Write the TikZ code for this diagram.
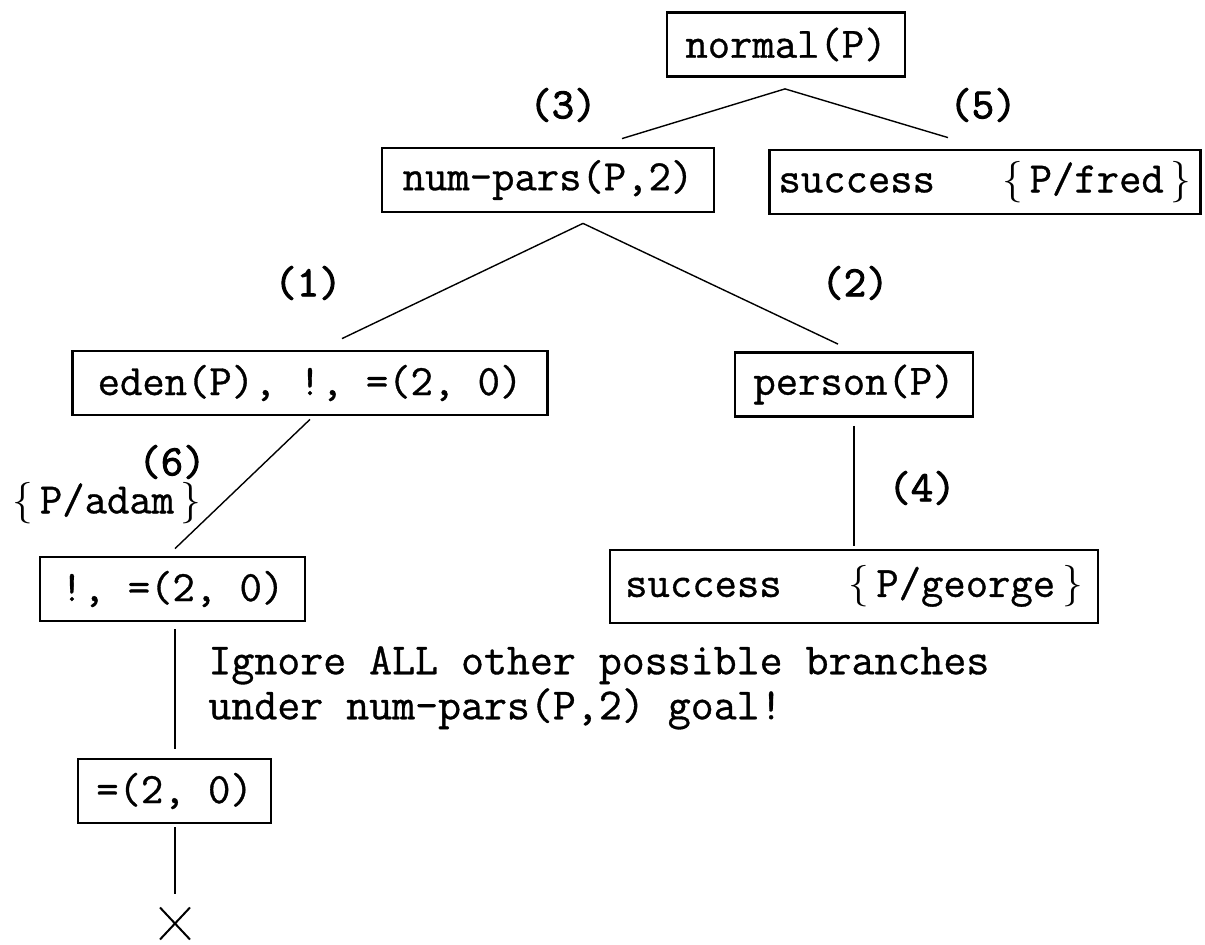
\documentclass[tikz,border=0pt]{standalone}
\usepackage{fontspec}
\usetikzlibrary{calc}
% typewriter faces, slightly emboldened for the goals and more for the branch numbers
\newfontfamily\goalfont{Latin Modern Mono}[FakeBold=0.8]
\newfontfamily\numfont{Latin Modern Mono}[FakeBold=2.2]
\begin{document}
\begin{tikzpicture}[x=0.5pt,y=-0.5pt,
  goal/.style={draw,line width=1.4pt,inner sep=0pt,minimum height=32pt,
    font=\fontsize{21.7}{26}\selectfont\goalfont},
  lbl/.style={inner sep=0pt,font=\fontsize{21.7}{26}\selectfont\numfont},
  sublbl/.style={inner sep=0pt,font=\fontsize{21.7}{26}\selectfont\goalfont},
  edge/.style={line width=0.7pt},
  failmark/.style={line width=1pt}]
\useasboundingbox (0,0) rectangle (1205,945);

% goals of the search tree
\node[goal,minimum width=119pt] (normal) at (786,44.5) {normal(P)};
\node[goal,minimum width=166pt] (numpars) at (548,180) {num-pars(P,2)};
\node[goal,minimum width=215.5pt] (fred) at (985,182) {success\ \ \ $\{\,$P/fred$\,\}$};
\node[goal,minimum width=237.5pt] (eden) at (310,383) {eden(P), !, =(2, 0)};
\node[goal,minimum width=119pt] (person) at (854,384.5) {person(P)};
\node[goal,minimum width=132.5pt] (cut) at (172.5,589) {!, =(2, 0)};
\node[goal,minimum width=96.5pt] (unify) at (174.5,791) {=(2, 0)};
\node[goal,minimum width=244pt,minimum height=36.5pt] (george) at (854,586.5) {success\ \ \ $\{\,$P/george$\,\}$};

% failure mark under the last goal
\coordinate (fail) at (175,923.5);
\draw[failmark] ($(fail)+(-15,-16)$) -- ($(fail)+(15,16)$)
                ($(fail)+(-15,16)$) -- ($(fail)+(15,-16)$);

% branch labels
\node[lbl] (l3) at (563,105) {(3)};
\node[lbl] (l5) at (983,105) {(5)};
\node[lbl] (l1) at (308,283) {(1)};
\node[lbl] (l2) at (855,283) {(2)};
\node[lbl] (l6) at (172,462) {(6)};
\node[sublbl] (adam) at (107,503) {$\{\,$P/adam$\,\}$};
\node[lbl] (l4) at (922,488) {(4)};
\node[sublbl,anchor=north west,align=left,font=\fontsize{22.3}{22.5}\selectfont\goalfont] (note) at (208,646)
  {Ignore ALL other possible branches\\under num-pars(P,2) goal!};

% connectors
\coordinate (a0) at ($(normal.south)+(-1,11)$);
\draw[edge] (a0) -- ($(numpars.north)+(74,-8)$);
\draw[edge] (a0) -- ($(fred.north)+(-37,-11)$);
\coordinate (a1) at ($(numpars.south)+(35,10)$);
\draw[edge] (a1) -- ($(eden.north)+(32,-11)$);
\draw[edge] (a1) -- ($(person.north)+(-16,-7)$);
\draw[edge] ($(eden.south)+(0,3)$) -- ($(cut.north)+(2.5,-7)$);
\draw[edge] ($(person.south)+(0,8)$) -- ($(george.north)+(0,-3)$);
\draw[edge] ($(cut.south)+(2.5,7)$) -- ($(unify.north)+(0.5,-9)$);
\draw[edge] ($(unify.south)+(0.5,3)$) -- ($(fail)+(0,-30)$);
\end{tikzpicture}
\end{document}
